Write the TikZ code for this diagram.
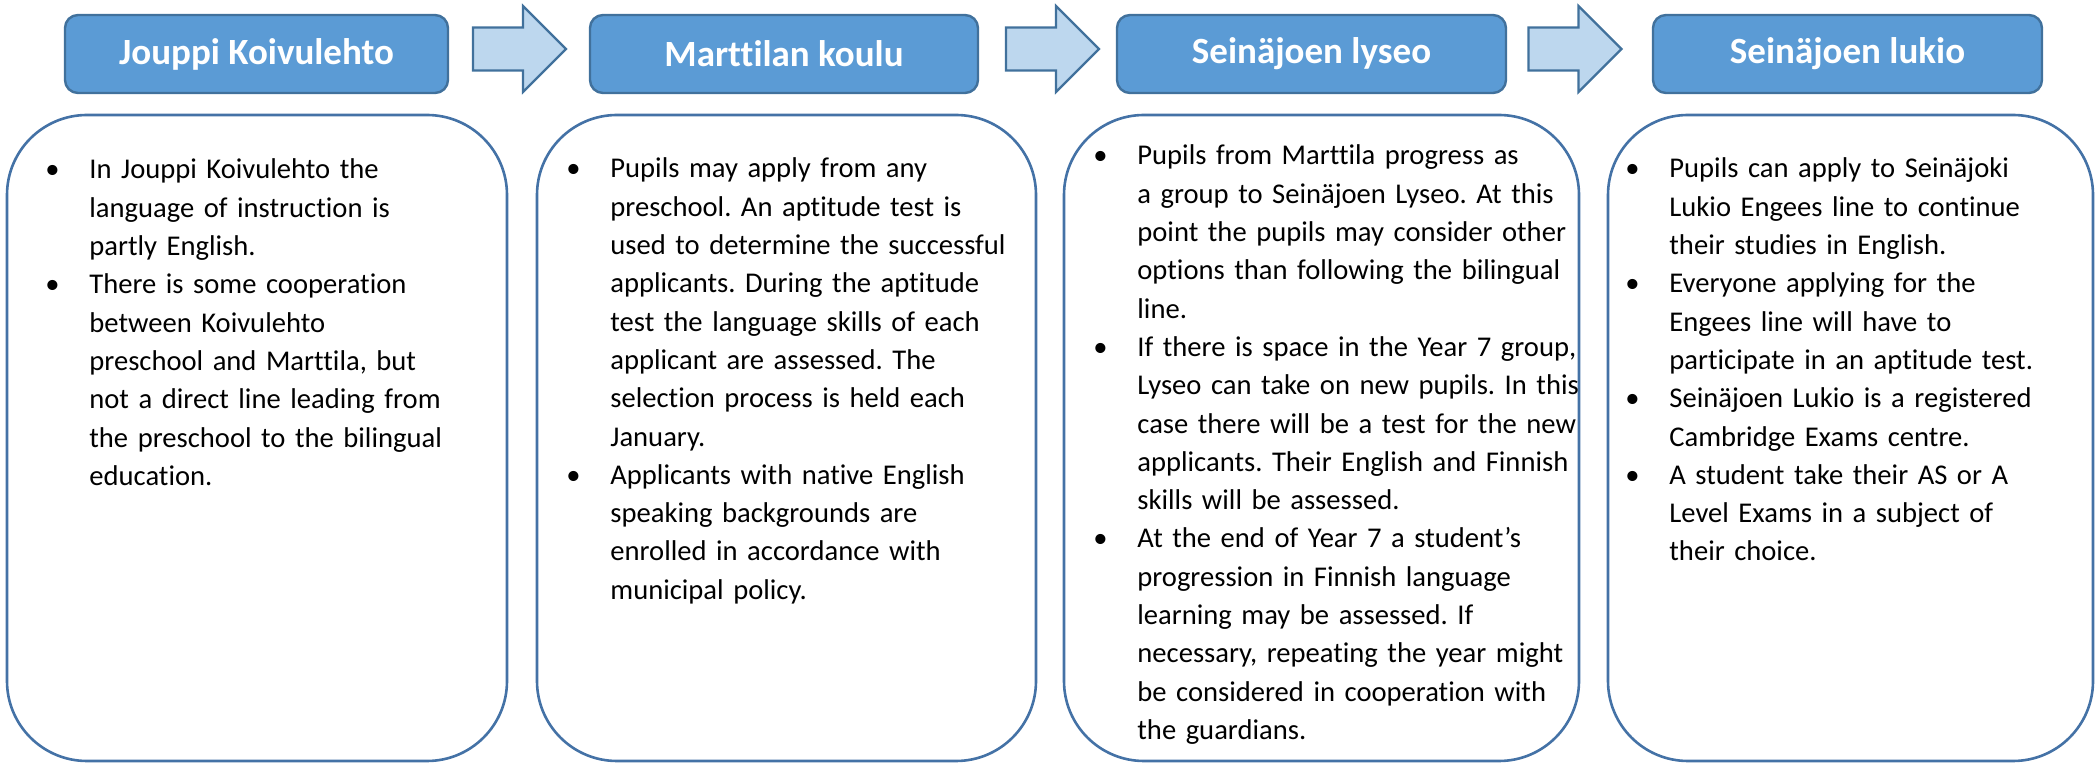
\documentclass[tikz,border=0pt]{standalone}
\usepackage{fontspec}
\setmainfont{Carlito}[Ligatures={NoCommon}]
\usetikzlibrary{positioning}

\definecolor{hdrblue}{HTML}{5B9BD5}
\definecolor{hdrline}{HTML}{41719C}
\definecolor{arrowblue}{HTML}{BDD7EE}
\definecolor{boxline}{HTML}{4472A6}

\newlength{\bulind}
\setlength{\bulind}{22pt}
\newcommand{\bul}[1]{\hangindent=\bulind\hangafter=1\noindent\makebox[\bulind][l]{\textbullet}#1\par}

\begin{document}
\begin{tikzpicture}[
        x=0.5pt, y=-0.5pt,
        % Node styles
        school/.style={
                rectangle, rounded corners=6.5pt, draw=hdrline, line width=1.2pt,
                fill=hdrblue, text=white, minimum height=39pt, inner sep=0pt,
                font=\fontsize{18.5pt}{22pt}\selectfont\bfseries,
            },
        info box/.style={
                rectangle, rounded corners=40pt, draw=boxline, line width=1.3pt,
                minimum height=323pt, inner sep=0pt,
            },
        info text/.style={
                anchor=base west, inner sep=0pt, text width=270pt, align=left,
                font=\fontsize{14.3pt}{19.15pt}\selectfont\frenchspacing,
            },
        % Block arrow between the school headers
        big arrow/.pic={
                \draw[fill=arrowblue, draw=hdrline, line width=1.1pt, line join=miter]
                (-46.5,-21.5) -- (3.5,-21.5) -- (3.5,-43) -- (46.5,0)
                -- (3.5,43) -- (3.5,21.5) -- (-46.5,21.5) -- cycle;
            },
    ]
    \useasboundingbox (0,0) rectangle (2100,763);

    % --- School headers ---
    \node[school, minimum width=191.5pt] (jouppi)  at (256.5,54)  {Jouppi Koivulehto};
    \node[school, minimum width=194pt]   (marttila) at (784,54)   {Marttilan koulu};
    \node[school, minimum width=194.5pt] (lyseo)   at (1311.5,54) {Seinäjoen lyseo};
    \node[school, minimum width=194.5pt] (lukio)   at (1847.5,54) {Seinäjoen lukio};

    \foreach \ax in {519.5, 1052.5, 1575} {
            \pic at (\ax,49) {big arrow};
        }

    % --- Info boxes ---
    \node[info box, minimum width=250pt]   (jouppibox)   at (257,438)    {};
    \node[info box, minimum width=249.5pt] (marttilabox) at (786.5,438)  {};
    \node[info box, minimum width=257.5pt] (lyseobox)    at (1321.5,438) {};
    \node[info box, minimum width=242.5pt] (lukiobox)    at (1850.5,438) {};

    % anchors sit on the first baseline
    \node[info text] (jouppitext) at (45,179) {%
        \bul{In Jouppi Koivulehto the\newline language of instruction is\newline partly English.}
        \bul{There is some cooperation\newline between Koivulehto\newline preschool and Marttila, but\newline not a direct line leading from\newline the preschool to the bilingual\newline education.}};

    \node[info text] (marttilatext) at (566,178) {%
        \bul{Pupils may apply from any\newline preschool. An aptitude test is\newline used to determine the successful\newline applicants. During the aptitude\newline test the language skills of each\newline applicant are assessed. The\newline selection process is held each\newline January.}
        \bul{Applicants with native English\newline speaking backgrounds are\newline enrolled in accordance with\newline municipal policy.}};

    \node[info text] (lyseotext) at (1093,165) {%
        \bul{Pupils from Marttila progress as\newline a group to Seinäjoen Lyseo. At this\newline point the pupils may consider other\newline options than following the bilingual\newline line.}
        \bul{If there is space in the Year 7 group,\newline Lyseo can take on new pupils. In this\newline case there will be a test for the new\newline applicants. Their English and Finnish\newline skills will be assessed.}
        \bul{At the end of Year 7 a student’s\newline progression in Finnish language\newline learning may be assessed. If\newline necessary, repeating the year might\newline be considered in cooperation with\newline the guardians.}};

    \node[info text] (lukiotext) at (1625,178) {%
        \bul{Pupils can apply to Seinäjoki\newline Lukio Engees line to continue\newline their studies in English.}
        \bul{Everyone applying for the\newline Engees line will have to\newline participate in an aptitude test.}
        \bul{Seinäjoen Lukio is a registered\newline Cambridge Exams centre.}
        \bul{A student take their AS or A\newline Level Exams in a subject of\newline their choice.}};

\end{tikzpicture}
\end{document}
